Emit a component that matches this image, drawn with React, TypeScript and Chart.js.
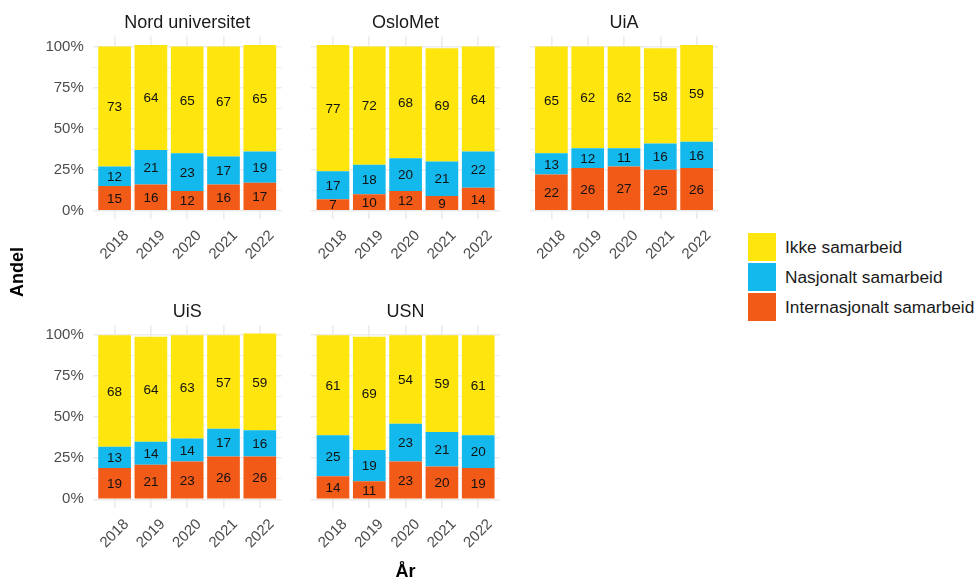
import React, { useEffect, useRef } from 'react';
import { Chart, registerables } from 'chart.js';

Chart.register(...registerables);

// ---------- data ----------
const years = ['2018', '2019', '2020', '2021', '2022'];
const seriesNames = ['Ikke samarbeid', 'Nasjonalt samarbeid', 'Internasjonalt samarbeid'];
const seriesColors = ['#FDE50D', '#13B9ED', '#F15A17'];
const yTickLabels = ['0%', '25%', '50%', '75%', '100%'];
const yGridValues = [0, 12.5, 25, 37.5, 50, 62.5, 75, 87.5, 100];

const nordIkke = [73, 64, 65, 67, 65];
const nordNasj = [12, 21, 23, 17, 19];
const nordIntl = [15, 16, 12, 16, 17];

const osloIkke = [77, 72, 68, 69, 64];
const osloNasj = [17, 18, 20, 21, 22];
const osloIntl = [7, 10, 12, 9, 14];

const uiaIkke = [65, 62, 62, 58, 59];
const uiaNasj = [13, 12, 11, 16, 16];
const uiaIntl = [22, 26, 27, 25, 26];

const uisIkke = [68, 64, 63, 57, 59];
const uisNasj = [13, 14, 14, 17, 16];
const uisIntl = [19, 21, 23, 26, 26];

const usnIkke = [61, 69, 54, 59, 61];
const usnNasj = [25, 19, 23, 21, 20];
const usnIntl = [14, 11, 23, 20, 19];

const panelTitles = ['Nord universitet', 'OsloMet', 'UiA', 'UiS', 'USN'];

// ---------- layout ----------
const FONT = "'Liberation Sans', Arial, Helvetica, sans-serif";
const CW = 290;
const CH = 290;
const PW = 188.8;
const PH = 182.4;
const areaLefts = [92.8, 311.2, 529.6];
const areaTops = [36.6, 325.2];
const canvasLefts = [0, 218, 437];
const canvasTops = [0, 289];

type PanelDef = {
  title: string;
  ikke: number[];
  nasj: number[];
  intl: number[];
  col: number;
  row: number;
};

const panels: PanelDef[] = [
  { title: panelTitles[0], ikke: nordIkke, nasj: nordNasj, intl: nordIntl, col: 0, row: 0 },
  { title: panelTitles[1], ikke: osloIkke, nasj: osloNasj, intl: osloIntl, col: 1, row: 0 },
  { title: panelTitles[2], ikke: uiaIkke, nasj: uiaNasj, intl: uiaIntl, col: 2, row: 0 },
  { title: panelTitles[3], ikke: uisIkke, nasj: uisNasj, intl: uisIntl, col: 0, row: 1 },
  { title: panelTitles[4], ikke: usnIkke, nasj: usnNasj, intl: usnIntl, col: 1, row: 1 },
];

function Panel({ def }: { def: PanelDef }) {
  const ref = useRef<HTMLCanvasElement>(null);
  const left = canvasLefts[def.col];
  const top = canvasTops[def.row];
  const yw = areaLefts[def.col] - left;
  const padTop = areaTops[def.row] - top;
  const xh = CH - padTop - PH;
  const showY = def.col === 0;

  useEffect(() => {
    const canvas = ref.current;
    if (!canvas) return;

    const barLabels = {
      id: 'barLabels',
      afterDatasetsDraw(chart: any) {
        const ctx = chart.ctx;
        ctx.save();
        ctx.font = `13.5px ${FONT}`;
        ctx.fillStyle = '#111111';
        ctx.textAlign = 'center';
        ctx.textBaseline = 'middle';
        chart.data.datasets.forEach((ds: any, di: number) => {
          const meta = chart.getDatasetMeta(di);
          meta.data.forEach((el: any, j: number) => {
            const p = el.getProps(['x', 'y', 'base'], true);
            ctx.fillText(String(ds.data[j].y), p.x, (p.y + p.base) / 2 + 1);
          });
        });
        ctx.restore();
      },
    };

    const decorations = {
      id: 'decorations',
      afterDraw(chart: any) {
        const ctx = chart.ctx;
        const area = chart.chartArea;
        const xs = chart.scales.x;
        ctx.save();
        // panel title
        ctx.font = `18px ${FONT}`;
        ctx.fillStyle = '#1A1A1A';
        ctx.textAlign = 'center';
        ctx.textBaseline = 'alphabetic';
        ctx.fillText(def.title, (area.left + area.right) / 2, area.top - 8.5);
        // rotated x tick labels
        ctx.font = `15px ${FONT}`;
        ctx.fillStyle = '#4D4D4D';
        ctx.textBaseline = 'middle';
        years.forEach((yr, i) => {
          const px = xs.getPixelForValue(i + 1);
          ctx.save();
          ctx.translate(px, area.bottom + 26);
          ctx.rotate(-Math.PI / 4);
          ctx.fillText(yr, 0, 0);
          ctx.restore();
        });
        ctx.restore();
      },
    };

    const toPoints = (arr: number[]) => arr.map((v, i) => ({ x: i + 1, y: v }));

    const chart = new Chart(canvas, {
      type: 'bar',
      data: {
        datasets: [
          { label: seriesNames[2], data: toPoints(def.intl), backgroundColor: seriesColors[2], stack: 's', categoryPercentage: 1, barPercentage: 0.9, borderWidth: 0 },
          { label: seriesNames[1], data: toPoints(def.nasj), backgroundColor: seriesColors[1], stack: 's', categoryPercentage: 1, barPercentage: 0.9, borderWidth: 0 },
          { label: seriesNames[0], data: toPoints(def.ikke), backgroundColor: seriesColors[0], stack: 's', categoryPercentage: 1, barPercentage: 0.9, borderWidth: 0 },
        ] as any,
      },
      options: {
        responsive: false,
        maintainAspectRatio: false,
        animation: false,
        events: [],
        layout: { padding: { top: padTop, left: 0, right: CW - yw - PW, bottom: 0 } },
        plugins: {
          legend: { display: false },
          tooltip: { enabled: false },
          title: { display: false },
        },
        scales: {
          x: {
            type: 'linear',
            min: 0.4,
            max: 5.6,
            stacked: true,
            offset: false,
            afterBuildTicks: (s: any) => {
              s.ticks = years.map((_, i) => ({ value: i + 1 }));
            },
            afterFit: (s: any) => {
              s.height = xh;
            },
            ticks: { display: false, autoSkip: false },
            grid: { color: '#EBEBEB', lineWidth: 1.6, drawTicks: false, offset: false },
            border: { display: false },
          },
          y: {
            type: 'linear',
            min: -5.05,
            max: 106.05,
            stacked: true,
            afterBuildTicks: (s: any) => {
              s.ticks = yGridValues.map((v) => ({ value: v }));
            },
            afterFit: (s: any) => {
              s.width = yw;
            },
            ticks: {
              display: showY,
              autoSkip: false,
              padding: 9,
              color: '#4D4D4D',
              font: { size: 15, family: FONT },
              callback: (v: any) => {
                const n = Number(v);
                return n % 25 === 0 ? yTickLabels[n / 25] : '';
              },
            },
            grid: {
              color: '#EBEBEB',
              lineWidth: (ctx: any) => (ctx.tick && ctx.tick.value % 25 === 0 ? 1.6 : 0.8),
              drawTicks: false,
              offset: false,
            },
            border: { display: false },
          },
        } as any,
      },
      plugins: [barLabels, decorations],
    });
    return () => chart.destroy();
  }, []);

  return (
    <canvas
      ref={ref}
      width={CW}
      height={CH}
      style={{ position: 'absolute', left, top, width: CW, height: CH }}
    />
  );
}

export default function App() {
  const legendTops = [233, 263, 293];
  return (
    <div
      style={{
        position: 'absolute',
        left: 0,
        top: 0,
        width: 977,
        height: 581,
        background: '#FFFFFF',
        overflow: 'hidden',
        fontFamily: FONT,
      }}
    >
      {panels.map((p) => (
        <Panel key={p.title} def={p} />
      ))}
      <div
        style={{
          position: 'absolute',
          left: 17 - 40,
          top: 272 - 11,
          width: 80,
          height: 22,
          lineHeight: '22px',
          textAlign: 'center',
          fontWeight: 'bold',
          fontSize: 18,
          color: '#000',
          transform: 'rotate(-90deg)',
        }}
      >
        Andel
      </div>
      <div
        style={{
          position: 'absolute',
          left: 405.6 - 40,
          top: 560,
          width: 80,
          height: 22,
          lineHeight: '22px',
          textAlign: 'center',
          fontWeight: 'bold',
          fontSize: 18,
          color: '#000',
        }}
      >
        År
      </div>
      {seriesNames.map((name, i) => (
        <React.Fragment key={name}>
          <div
            style={{
              position: 'absolute',
              left: 748,
              top: legendTops[i],
              width: 28,
              height: 28,
              background: seriesColors[i],
            }}
          />
          <div
            style={{
              position: 'absolute',
              left: 785,
              top: legendTops[i],
              height: 28,
              lineHeight: '28px',
              fontSize: 17.3,
              color: '#1A1A1A',
              whiteSpace: 'nowrap',
            }}
          >
            {name}
          </div>
        </React.Fragment>
      ))}
    </div>
  );
}
